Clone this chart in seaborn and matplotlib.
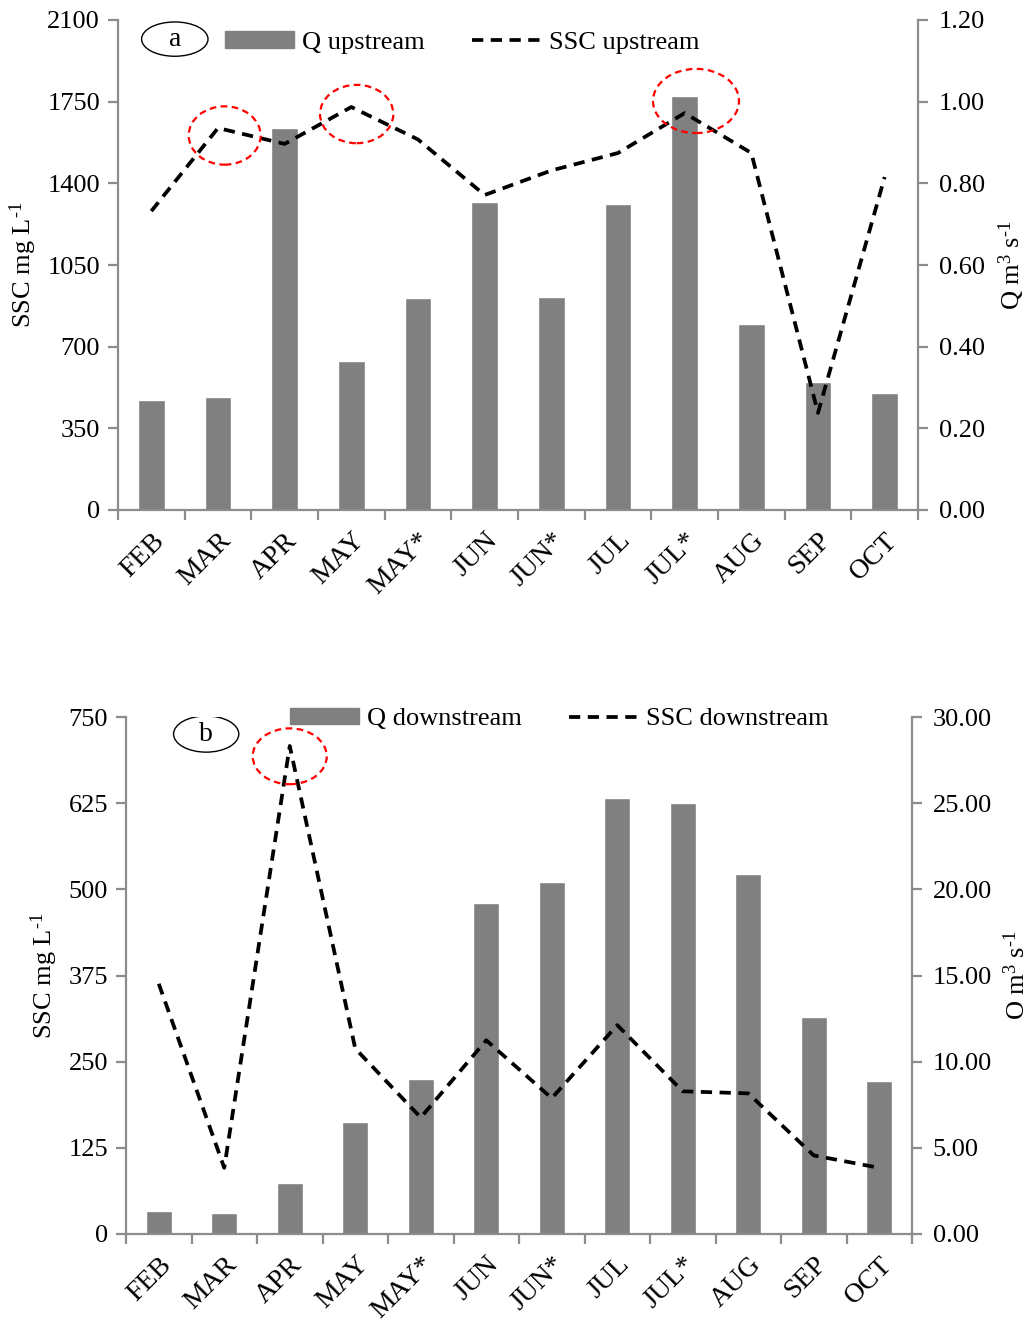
import matplotlib
matplotlib.use("Agg")
import matplotlib.pyplot as plt
from matplotlib.patches import Ellipse, Patch
from matplotlib.lines import Line2D
from matplotlib.ticker import FuncFormatter, FixedLocator
import numpy as np
import seaborn as sns

months = ["FEB", "MAR", "APR", "MAY", "MAY*", "JUN", "JUN*", "JUL", "JUL*", "AUG", "SEP", "OCT"]

# panel a - upstream
q_up = [0.269, 0.277, 0.935, 0.365, 0.519, 0.754, 0.522, 0.749, 1.014, 0.455, 0.314, 0.287]
ssc_up = [1281, 1637, 1569, 1727, 1588, 1350, 1455, 1530, 1701, 1530, 416, 1427]

# panel b - downstream
q_down = [1.33, 1.22, 2.95, 6.49, 8.98, 19.2, 20.4, 25.3, 25.0, 20.9, 12.6, 8.9]
ssc_down = [363, 96, 708, 269, 169, 281, 197, 303, 207, 204, 114, 96]

sns.set_theme(style="white")
plt.rcParams["font.family"] = ["Liberation Serif", "DejaVu Serif"]
plt.rcParams["mathtext.fontset"] = "custom"
plt.rcParams["mathtext.rm"] = "Liberation Serif"
plt.rcParams["mathtext.it"] = "Liberation Serif:italic"
plt.rcParams["text.color"] = "black"
plt.rcParams["axes.labelcolor"] = "black"
plt.rcParams["xtick.labelcolor"] = "black"
plt.rcParams["ytick.labelcolor"] = "black"

GRAY = "#808080"
SPINE = "#8c8c8c"
FS = 19

fig = plt.figure(figsize=(10.33, 13.26), dpi=100)
W, H = 1033, 1326


def make_axes(left, right, top, bottom):
    return fig.add_axes([left / W, 1 - bottom / H, (right - left) / W, (bottom - top) / H])


def draw_panel(ax, q, ssc, ymax_l, step_l, ymax_r, step_r, fmt_r, tag, names, rlabel, leg_x, leg_y, rings):
    ax2 = ax.twinx()
    x = np.arange(len(months))
    sns.barplot(x=months, y=q, ax=ax2, color=GRAY, width=0.4, saturation=1)
    sns.lineplot(x=x, y=ssc, ax=ax, color="black", lw=2.7, sort=False,
                 linestyle=(0, (3, 2)))
    ax.set_zorder(ax2.get_zorder() + 1)
    ax.patch.set_visible(False)

    ax.set_xlim(-0.5, len(months) - 0.5)
    ax.set_ylim(0, ymax_l)
    ax2.set_ylim(0, ymax_r)
    ax.set_yticks(np.arange(0, ymax_l + 1, step_l))
    ax2.set_yticks(np.arange(0, ymax_r + step_r / 2, step_r))
    ax2.yaxis.set_major_formatter(FuncFormatter(lambda v, p: fmt_r.format(v)))

    ax.set_xticks(x)
    ax.set_xticklabels(months, rotation=45, ha="right", rotation_mode="anchor", fontsize=20)
    ax.xaxis.set_minor_locator(FixedLocator(np.arange(-0.5, len(months), 1)))
    ax2.set_xlabel("")
    ax2.tick_params(axis="x", which="both", length=0, labelbottom=False)

    for a in (ax, ax2):
        for s in a.spines.values():
            s.set_color(SPINE)
            s.set_linewidth(1.6)
        a.spines["top"].set_visible(False)
        a.grid(False)
    ax.spines["right"].set_visible(False)
    ax2.spines["left"].set_visible(False)
    ax2.spines["bottom"].set_visible(False)

    ax.tick_params(axis="y", which="major", length=7, width=1.6, color=SPINE,
                   direction="out", labelsize=FS, left=True, pad=6)
    ax.tick_params(axis="x", which="major", length=0, pad=13, bottom=True)
    ax.tick_params(axis="x", which="minor", length=7, width=1.6, color=SPINE,
                   direction="out", bottom=True)
    ax2.tick_params(axis="y", length=7, width=1.6, color=SPINE, direction="out",
                    labelsize=FS, right=True, pad=8)

    ax.set_ylabel(r"SSC mg L$^{\text{-1}}$", fontsize=FS, labelpad=6)
    ax2.set_ylabel(rlabel, fontsize=FS, labelpad=8)

    # panel tag in ellipse
    ax.add_patch(Ellipse(tag[1], 0.083, 0.07, transform=ax.transAxes,
                         fc="white", ec="black", lw=1.0, zorder=5))
    ax.text(tag[1][0], tag[1][1], tag[0], transform=ax.transAxes, fontsize=FS + 1,
            ha="center", va="center", zorder=6)

    handles = [Patch(color=GRAY), Line2D([], [], color="black", lw=2.7, linestyle=(0, (3, 2)))]
    ax.legend(handles, names, loc="center left", bbox_to_anchor=(leg_x, leg_y), ncol=2,
              frameon=False, fontsize=FS, handlelength=2.6, handleheight=0.6,
              handletextpad=0.3, columnspacing=1.8, borderpad=0, borderaxespad=0)

    # red dashed rings around the highlighted peaks
    for cx, cy, w, h in rings:
        ax.add_patch(Ellipse((cx, cy), w, h, fill=False, ec="red", lw=1.6,
                             linestyle=(0, (3, 2)), zorder=6))


ax_a = make_axes(118, 918, 20, 510)
draw_panel(ax_a, q_up, ssc_up, 2100, 350, 1.2, 0.2, "{:.2f}", ("a", (0.071, 0.961)),
           ["Q upstream", "SSC upstream"], r"Q m$^{3}$ s$^{\text{-1}}$", 0.134, 0.954,
           [(1.1, 1605, 1.08, 250), (3.08, 1697, 1.1, 250), (8.17, 1753, 1.29, 275)])

ax_b = make_axes(126, 912, 717, 1234)
draw_panel(ax_b, q_down, ssc_down, 750, 125, 30, 5, "{:.2f}", ("b", (0.102, 0.967)),
           ["Q downstream", "SSC downstream"], r"O m$^{3}$ s$^{\text{-1}}$", 0.209, 0.996,
           [(2.0, 693, 1.13, 81)])

fig.savefig("out.png", dpi=100)
